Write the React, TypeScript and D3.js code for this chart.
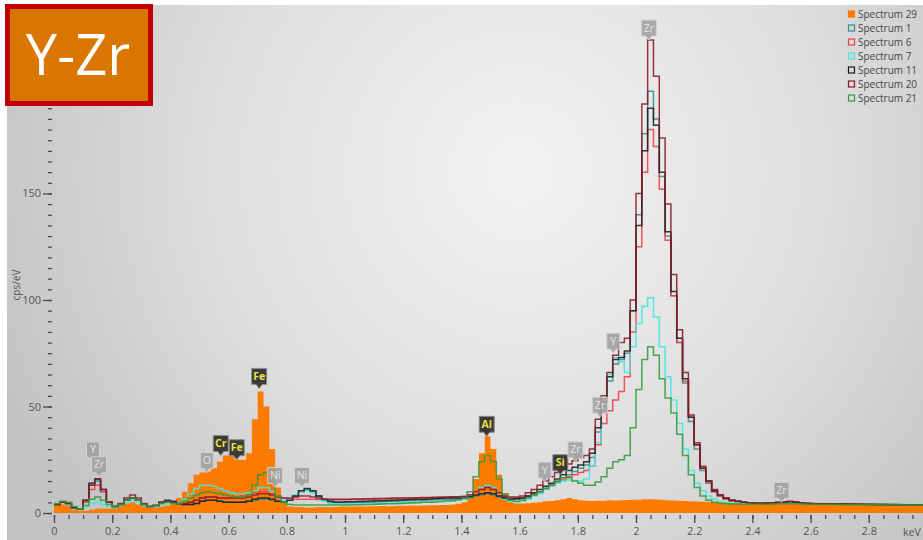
import { useEffect, useRef } from "react";
import * as d3 from "d3";

const W = 923;
const H = 540;

// 0.02 keV channels, value = cps/eV at channel start
const energy = d3.range(150).map((i) => i * 0.02);

const spectrum29 = [
  3.5, 4, 3.5, 1.5, 1, 1, 1.5, 2, 2, 2,
  2.5, 3.5, 4.5, 5, 4, 3, 2.5, 2.5, 3, 3.5,
  4.5, 7, 10, 14, 18, 19, 19.5, 21, 24, 27,
  27, 25, 25, 28, 44, 57, 50, 30, 12, 5,
  3, 2.8, 2.8, 2.6, 2.6, 2.8, 2.8, 2.7, 2.8, 3,
  3, 3, 3.1, 3, 3.2, 3.2, 3.3, 3.2, 3.3, 3.4,
  3.4, 3.5, 3.4, 3.5, 3.6, 3.6, 3.7, 3.8, 4, 4.3,
  5, 8, 16, 28, 36, 30, 18, 9, 5, 4.5,
  4.5, 4.6, 4.8, 5, 5.5, 5.6, 6, 6.5, 7, 6.5,
  6, 5.8, 5.6, 5.8, 5.8, 6, 5.9, 6, 6.1, 6.2,
  6.2, 6.4, 6.5, 6.3, 6.2, 6, 5.9, 5.8, 5.6, 5.5,
  5.4, 5.3, 5.2, 5.1, 5, 5, 4.9, 4.9, 4.8, 4.8,
  4.8, 4.7, 4.8, 4.7, 4.7, 4.6, 4.6, 4.6, 4.5, 4.5,
  4.5, 4.5, 4.4, 4.4, 4.4, 4.3, 4.3, 4.3, 4.2, 4.2,
  4.2, 4.2, 4.1, 4.1, 4.1, 4, 4, 4, 4, 4,
];

const spectrum1 = [
  4, 5, 4.5, 2.5, 2, 5.5, 13, 15, 10, 5,
  3, 4, 6, 7, 6, 4, 3, 3.5, 4.5, 5.5,
  5, 4.5, 4, 4, 4.5, 5.5, 6, 6, 5.5, 5,
  5, 5, 5, 5.5, 6, 6.5, 6.5, 6, 5.5, 5,
  6, 8, 10, 11, 10, 8, 6, 5, 4.8, 4.8,
  4.8, 4.9, 5, 5, 5.1, 5.2, 5.3, 5.4, 5.5, 5.6,
  5.7, 5.8, 5.9, 6, 6.1, 6.2, 6.3, 6.4, 6.5, 6.6,
  6.8, 7.2, 8, 8.5, 9, 8.5, 7.5, 6.8, 6.4, 6.5,
  6.8, 7.5, 8.5, 10, 11.5, 13, 14.5, 16.5, 18, 19.5,
  21, 22.5, 26, 38, 50, 62, 70, 72, 75, 95,
  140, 178, 198, 185, 158, 130, 102, 80, 61, 43,
  30, 20, 14, 10, 8, 6.8, 6, 5.5, 5, 4.8,
  4.7, 4.6, 4.6, 4.7, 4.8, 5, 5.1, 4.9, 4.7, 4.5,
  4.4, 4.4, 4.3, 4.3, 4.3, 4.2, 4.2, 4.2, 4.1, 4.1,
  4.1, 4.1, 4, 4, 4, 4, 3.9, 3.9, 3.9, 3.9,
];

const spectrum6 = [
  4, 5, 4.5, 2.5, 2, 5, 11, 13, 10, 5,
  3, 4, 6, 7, 6, 4, 3, 3.5, 4.5, 5,
  5, 4.5, 4.5, 5, 6, 7, 7.5, 7.5, 7, 7,
  7, 7.5, 8, 8.5, 9.5, 10, 10, 9, 8, 7,
  6.5, 6.5, 6.5, 6.5, 6.5, 6.3, 6.2, 6.2, 6.2, 6.2,
  6.2, 6.3, 6.3, 6.4, 6.5, 6.5, 6.6, 6.6, 6.7, 6.8,
  6.8, 6.9, 7, 7, 7.1, 7.2, 7.2, 7.3, 7.4, 7.5,
  7.8, 8.5, 10, 11, 12, 11, 9, 7.5, 7, 7,
  7, 8, 9, 10, 11.5, 13, 14.5, 15.5, 17, 18,
  19, 20, 22, 32, 42, 48, 53, 57, 64, 85,
  125, 160, 180, 172, 152, 128, 102, 80, 62, 45,
  32, 21, 14.5, 10, 8, 6.5, 5.5, 5, 4.8, 4.7,
  4.6, 4.5, 4.6, 4.7, 4.9, 5.1, 5.2, 5, 4.7, 4.5,
  4.4, 4.3, 4.3, 4.3, 4.2, 4.2, 4.2, 4.1, 4.1, 4.1,
  4, 4, 4, 4, 3.9, 3.9, 3.9, 3.9, 3.9, 3.8,
];

const spectrum7 = [
  4, 5, 4, 2, 2, 3, 4.5, 5, 4, 3,
  2.5, 3.5, 5, 6, 5, 3.5, 3, 3, 4, 4.5,
  4.5, 5, 6.5, 9, 11.5, 13, 13, 12.5, 11.5, 10.5,
  9.5, 9, 9, 9.5, 10.5, 12, 12, 10, 7.5, 6,
  6.5, 8.5, 10, 10.5, 9.5, 7, 5.5, 4.5, 4.2, 4.2,
  4.2, 4.2, 4.3, 4.3, 4.4, 4.4, 4.5, 4.6, 4.7, 4.8,
  4.9, 5, 5.1, 5.2, 5.3, 5.4, 5.5, 5.6, 5.8, 6,
  6.3, 7.5, 10, 12, 13, 12, 9, 6.5, 5.5, 5.2,
  5.5, 6.5, 8, 9, 11, 12.5, 14, 15, 15.5, 15,
  15, 16, 22, 33, 48, 65, 73, 71, 66, 78,
  89, 97, 101, 92, 78, 64, 53, 42, 30, 20,
  14, 10.5, 8, 6.5, 5.5, 5, 4.8, 4.7, 4.6, 4.5,
  4.5, 4.5, 4.5, 4.6, 4.7, 4.8, 4.8, 4.7, 4.6, 4.5,
  4.5, 4.4, 4.4, 4.4, 4.3, 4.3, 4.3, 4.3, 4.2, 4.2,
  4.2, 4.2, 4.1, 4.1, 4.1, 4.1, 4, 4, 4, 4,
];

const spectrum11 = [
  4, 5, 4.5, 2.5, 2, 6, 14, 16, 11, 5,
  3, 4, 6, 7, 6, 4, 3, 3.5, 5, 6,
  5.5, 4.5, 4, 4, 4.5, 5.5, 6, 6, 5.5, 5,
  5, 5, 5, 5.5, 6.5, 7, 7, 6.5, 5.5, 5,
  6, 8, 10.5, 11.5, 10.5, 8, 6.5, 5.5, 5.2, 5.2,
  5.3, 5.3, 5.4, 5.5, 5.6, 5.7, 5.8, 5.9, 6, 6.1,
  6.2, 6.3, 6.4, 6.5, 6.6, 6.8, 6.9, 7, 7, 7,
  7.2, 7.6, 8.5, 9, 9.5, 9, 8, 7, 6.5, 6.8,
  7, 8, 9.5, 11, 12.5, 14, 16, 18, 20, 21.5,
  22.5, 24, 28, 40, 52, 64, 72, 73, 76, 95,
  135, 170, 190, 182, 160, 132, 104, 82, 63, 45,
  32, 21, 15, 10.5, 8.5, 7, 6, 5.5, 5, 4.8,
  4.6, 4.5, 4.6, 4.7, 4.9, 5.2, 5.3, 5, 4.7, 4.5,
  4.4, 4.3, 4.3, 4.2, 4.2, 4.2, 4.1, 4.1, 4.1, 4,
  4, 4, 4, 3.9, 3.9, 3.9, 3.9, 3.9, 3.8, 3.8,
];

const spectrum20 = [
  4, 5, 4.5, 2.5, 2, 6, 13, 16, 11, 5,
  3, 4.5, 7, 8.5, 7, 4.5, 3, 3.5, 5, 5.5,
  5, 4.5, 4.5, 5, 6, 7, 7.5, 7.5, 7, 7,
  7, 7, 7, 7.5, 8.5, 9, 9, 8.5, 7.5, 7,
  7, 7.5, 8, 8, 7.5, 7, 6.5, 6.5, 6.5, 6.5,
  6.5, 6.6, 6.6, 6.7, 6.7, 6.8, 6.8, 6.9, 7, 7,
  7, 7.1, 7.2, 7.3, 7.3, 7.4, 7.5, 7.5, 7.6, 7.6,
  7.8, 8.5, 10, 11, 12, 11, 9.5, 8, 7.5, 7.5,
  8, 9.5, 11, 13, 15, 17, 19, 21, 23, 24.5,
  26, 27, 30, 44, 55, 66, 74, 80, 82, 100,
  150, 192, 222, 205, 176, 145, 112, 86, 66, 46,
  33, 22, 15, 11, 8.5, 7, 6, 5.5, 5, 4.8,
  4.7, 4.6, 4.7, 4.8, 5, 5.3, 5.5, 5.2, 4.8, 4.6,
  4.5, 4.4, 4.4, 4.3, 4.3, 4.2, 4.2, 4.2, 4.1, 4.1,
  4.1, 4, 4, 4, 4, 3.9, 3.9, 3.9, 3.9, 3.9,
];

const spectrum21 = [
  4.5, 5.5, 5, 3, 2, 3.5, 6.5, 7.5, 6, 4,
  3, 4, 6, 7, 6, 4, 3, 3.5, 4.5, 5,
  4.5, 4.5, 5.5, 7, 8.5, 9.5, 10, 9.5, 9, 8.5,
  8, 7.5, 7.5, 8.5, 13, 18, 19, 15, 8, 5,
  4, 3.8, 3.8, 3.8, 3.8, 3.8, 3.8, 3.8, 3.8, 3.8,
  3.8, 3.9, 3.9, 4, 4, 4.1, 4.2, 4.3, 4.4, 4.5,
  4.6, 4.7, 4.8, 5, 5.1, 5.2, 5.4, 5.6, 5.8, 6.2,
  7, 10, 17, 24, 27, 24, 16, 9, 6, 5.5,
  6, 7, 8.5, 10, 11.5, 13, 15, 16.5, 16.5, 15,
  14, 13, 13, 14.5, 17, 21, 24, 25, 27, 40,
  58, 72, 78, 74, 63, 54, 47, 37, 27, 18,
  12, 8, 6, 5, 4.5, 4.3, 4.2, 4.2, 4.1, 4.1,
  4.1, 4.1, 4.1, 4.2, 4.3, 4.4, 4.4, 4.3, 4.2, 4.1,
  4.1, 4, 4, 4, 4, 3.9, 3.9, 3.9, 3.9, 3.9,
  3.9, 3.9, 3.8, 3.8, 3.8, 3.8, 3.8, 3.8, 3.8, 3.8,
];

const legendNames = ["Spectrum 29", "Spectrum 1", "Spectrum 6", "Spectrum 7", "Spectrum 11", "Spectrum 20", "Spectrum 21"];

// y labels shown (200 sits under the title box in the original)
const yLabelTicks = [0, 50, 100, 150];

// peak markers: element, line energy (keV), value at marker tip (cps/eV), identified
const markerNames = ["Y", "Zr", "O", "Cr", "Fe", "Fe", "Ni", "Ni", "Al", "Y", "Si", "Zr", "Zr", "Y", "Zr", "Zr"];
const markerEnergy = [0.134, 0.155, 0.525, 0.573, 0.628, 0.705, 0.76, 0.852, 1.487, 1.686, 1.74, 1.792, 1.876, 1.922, 2.044, 2.5];
const markerTip = [24, 17, 19, 27, 25, 58.5, 12, 12, 36, 14.5, 18, 24, 45, 75, 222, 5];
const markerKnown = [false, false, false, true, true, true, false, false, true, false, true, false, false, false, false, false];

const colors: Record<string, string> = {
  "Spectrum 29": "#ff7b00",
  "Spectrum 1": "#2f8f8f",
  "Spectrum 6": "#ef3e48",
  "Spectrum 7": "#3fe6e6",
  "Spectrum 11": "#1c1c1c",
  "Spectrum 20": "#8a1a28",
  "Spectrum 21": "#36983a",
};

const lineSeries: [string, number[]][] = [
  ["Spectrum 1", spectrum1],
  ["Spectrum 6", spectrum6],
  ["Spectrum 7", spectrum7],
  ["Spectrum 11", spectrum11],
  ["Spectrum 20", spectrum20],
  ["Spectrum 21", spectrum21],
];

const font = "'Open Sans', 'Noto Sans', sans-serif";

export default function App() {
  const xAxisRef = useRef<SVGGElement>(null);
  const yAxisRef = useRef<SVGGElement>(null);

  const x = d3.scaleLinear().domain([0, 3]).range([54, 927]);
  const y = d3.scaleLinear().domain([0, 238]).range([513, 6]);

  const pts = (vals: number[]) => {
    const p: [number, number][] = energy.map((e, i) => [e, vals[i]]);
    p.push([3, vals[vals.length - 1]]);
    return p;
  };

  const line = d3
    .line<[number, number]>()
    .x((d) => x(d[0]))
    .y((d) => y(d[1]))
    .curve(d3.curveStepAfter);

  const area = d3
    .area<[number, number]>()
    .x((d) => x(d[0]))
    .y0(y(0))
    .y1((d) => y(d[1]))
    .curve(d3.curveStepAfter);

  useEffect(() => {
    const gx = d3.select(xAxisRef.current);
    gx.selectAll("*").remove();
    const minor = d3.range(0, 60).map((i) => i / 20);
    const major = d3.range(0, 15).map((i) => i / 5);
    gx.append("g")
      .call(d3.axisBottom(x).tickValues(minor).tickSize(4).tickFormat(() => ""))
      .call((g) => g.select(".domain").remove());
    gx.append("g")
      .call(d3.axisBottom(x).tickValues(major).tickSize(8).tickPadding(4).tickFormat(d3.format("~g")))
      .call((g) => g.select(".domain").remove());
    gx.selectAll("line").attr("stroke", "#4a4a4a").attr("stroke-width", 1.3);
    gx.selectAll("text").attr("fill", "#555").attr("font-size", 11).attr("font-family", font);

    const gy = d3.select(yAxisRef.current);
    gy.selectAll("*").remove();
    gy.append("g")
      .call(d3.axisLeft(y).tickValues(d3.range(0, 240, 5)).tickSize(4).tickFormat(() => ""))
      .call((g) => g.select(".domain").remove());
    gy.append("g")
      .call(d3.axisLeft(y).tickValues(yLabelTicks).tickSize(9).tickPadding(2).tickFormat(d3.format("d")))
      .call((g) => g.select(".domain").remove());
    gy.selectAll("line").attr("stroke", "#4a4a4a").attr("stroke-width", 1.3);
    gy.selectAll("text").attr("fill", "#555").attr("font-size", 11).attr("font-family", font);
  });

  return (
    <div style={{ position: "absolute", left: 0, top: 0 }}>
      <svg width={W} height={H} style={{ display: "block" }}>
        <defs>
          <radialGradient id="bg" gradientUnits="userSpaceOnUse" cx={520} cy={170} r={560}>
            <stop offset="0" stopColor="#f3f3f3" />
            <stop offset="0.55" stopColor="#dedede" />
            <stop offset="1" stopColor="#c3c3c3" />
          </radialGradient>
          <clipPath id="plot">
            <rect x={54} y={0} width={W - 54} height={514} />
          </clipPath>
        </defs>
        <rect width={W} height={H} fill="#fff" />
        <rect x={7} y={5} width={W - 7} height={H - 5} fill="url(#bg)" />

        <g ref={yAxisRef} transform="translate(52,0)" />
        <g ref={xAxisRef} transform="translate(0,515)" />
        <text
          transform="translate(20,285) rotate(-90)"
          textAnchor="middle"
          fontSize={10}
          fill="#555"
          fontFamily={font}
        >
          cps/eV
        </text>
        <text x={903} y={536} fontSize={10.5} fill="#555" fontFamily={font}>
          keV
        </text>

        <g clipPath="url(#plot)">
          <path d={area(pts(spectrum29)) ?? ""} fill={colors["Spectrum 29"]} />
          {lineSeries.map(([name, vals]) => (
            <path
              key={name}
              d={line(pts(vals)) ?? ""}
              fill="none"
              stroke={colors[name]}
              strokeWidth={1.5}
              strokeOpacity={0.88}
            />
          ))}
        </g>

        {markerNames.map((el, i) => {
          const cx = x(markerEnergy[i]);
          const tip = y(markerTip[i]);
          const w = el.length > 1 ? 15 : 13;
          const h = 16;
          const bottom = tip - 4;
          const known = markerKnown[i];
          return (
            <g key={i} opacity={known ? 1 : 0.9}>
              <path
                d={`M${cx - w / 2},${bottom - h}h${w}v${h}h${-(w / 2 - 3)}l-3,4l-3,-4h${-(w / 2 - 3)}z`}
                fill={known ? "#3a3a3a" : "#a2a2a2"}
                stroke={known ? "#8c8c8c" : "#d4d4d4"}
                strokeWidth={1}
              />
              <text
                x={cx}
                y={bottom - 4.5}
                textAnchor="middle"
                fontSize={10.5}
                fontWeight={known ? 700 : 400}
                fill={known ? "#eee23a" : "#e6e6e6"}
                fontFamily={font}
              >
                {el}
              </text>
            </g>
          );
        })}

        {legendNames.map((name, i) => (
          <g key={name} transform={`translate(848,${14 + i * 14})`}>
            <rect
              x={0.5}
              y={-3}
              width={6}
              height={6}
              fill={i === 0 ? colors[name] : "none"}
              stroke={colors[name]}
              strokeWidth={1.2}
            />
            <text x={10} y={3.5} fontSize={10} fill="#444" fontFamily={font}>
              {name}
            </text>
          </g>
        ))}

        <rect x={7.5} y={6.5} width={143} height={97} fill="#d97600" stroke="#c00000" strokeWidth={5} />
        <text x={78} y={75} textAnchor="middle" fontSize={56} fill="#fff" fontFamily={font}>
          Y-Zr
        </text>
      </svg>
    </div>
  );
}
